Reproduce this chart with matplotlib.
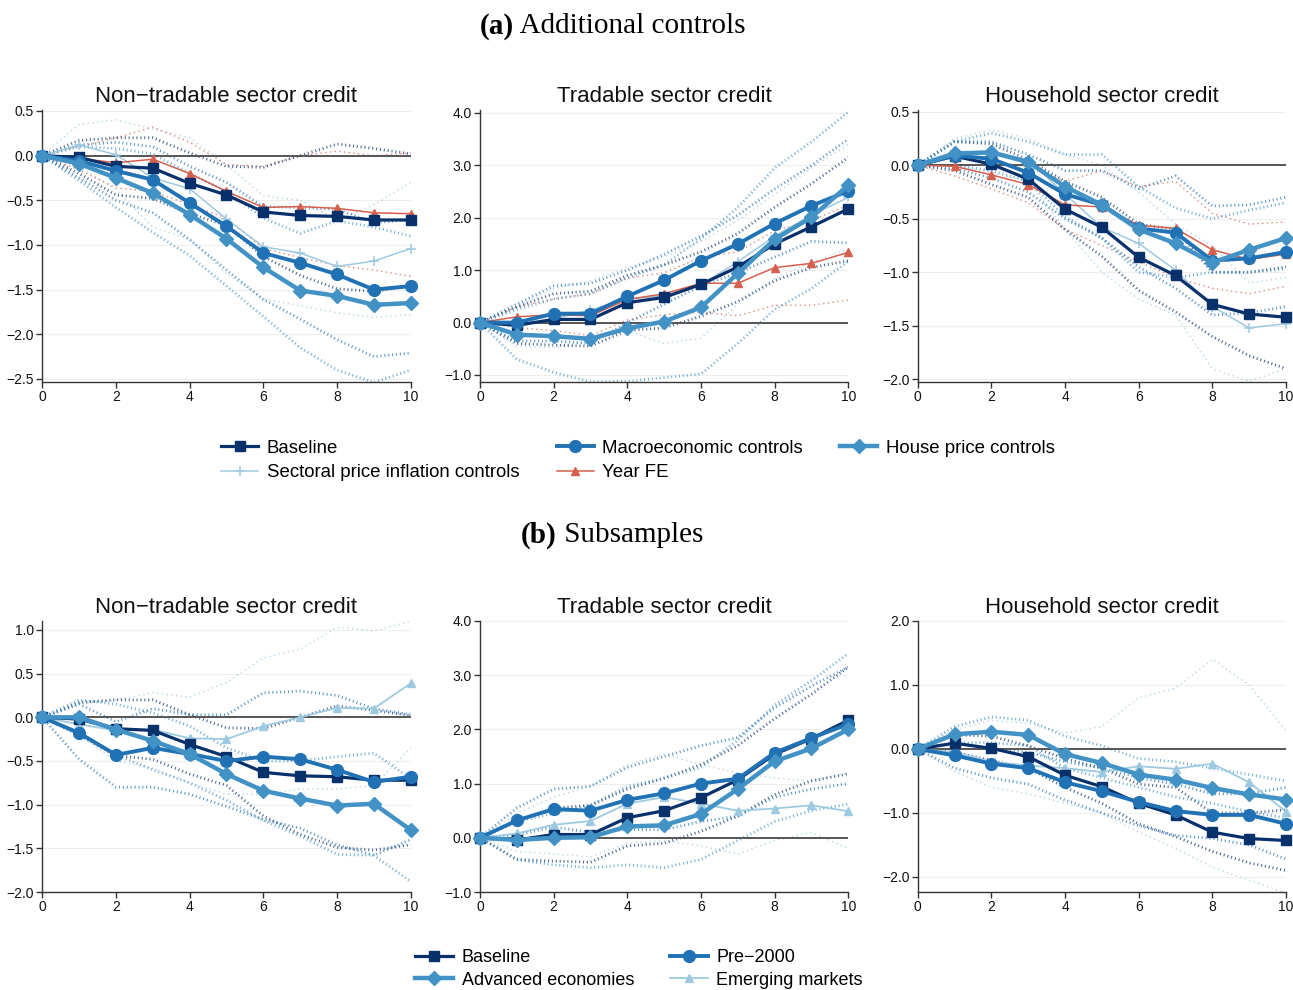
import matplotlib
matplotlib.use("Agg")
import matplotlib.pyplot as plt
from matplotlib.lines import Line2D

plt.rcParams['font.family'] = ['Liberation Sans', 'DejaVu Sans']

horizons = list(range(11))
panel_titles = ["Non\u2212tradable sector credit", "Tradable sector credit", "Household sector credit"]
section_a = "Additional controls"
section_b = "Subsamples"
labels_a = ["Baseline", "Macroeconomic controls", "House price controls",
            "Sectoral price inflation controls", "Year FE"]
labels_b = ["Baseline", "Pre\u22122000", "Advanced economies", "Emerging markets"]

# ---------------- Panel (a) : Non-tradable ----------------
a_nt_base = [0, -0.02, -0.12, -0.14, -0.31, -0.44, -0.63, -0.67, -0.68, -0.72, -0.72]
a_nt_base_hi = [0, 0.17, 0.20, 0.20, 0.03, -0.12, -0.13, 0.00, 0.13, 0.08, 0.02]
a_nt_base_lo = [0, -0.20, -0.44, -0.48, -0.65, -0.78, -1.13, -1.34, -1.49, -1.52, -1.46]
a_nt_macro = [0, -0.06, -0.17, -0.27, -0.53, -0.79, -1.09, -1.20, -1.33, -1.50, -1.46]
a_nt_macro_hi = [0, 0.12, 0.15, 0.10, -0.12, -0.30, -0.57, -0.58, -0.60, -0.75, -0.72]
a_nt_macro_lo = [0, -0.25, -0.50, -0.64, -0.94, -1.28, -1.61, -1.83, -2.06, -2.25, -2.21]
a_nt_house = [0, -0.09, -0.25, -0.42, -0.66, -0.93, -1.25, -1.51, -1.57, -1.67, -1.65]
a_nt_house_hi = [0, 0.10, 0.08, 0.02, -0.20, -0.40, -0.70, -0.87, -0.73, -0.80, -0.90]
a_nt_house_lo = [0, -0.28, -0.58, -0.86, -1.12, -1.46, -1.80, -2.15, -2.40, -2.54, -2.40]
a_nt_sect = [0, 0.12, 0.01, -0.25, -0.37, -0.71, -1.02, -1.09, -1.24, -1.18, -1.04]
a_nt_sect_hi = [0, 0.35, 0.40, 0.30, 0.20, -0.10, -0.45, -0.50, -0.72, -0.55, -0.30]
a_nt_sect_lo = [0, -0.12, -0.38, -0.80, -0.94, -1.32, -1.60, -1.68, -1.76, -1.81, -1.78]
a_nt_year = [0, -0.03, -0.08, -0.04, -0.20, -0.40, -0.58, -0.57, -0.59, -0.64, -0.65]
a_nt_year_hi = [0, 0.10, 0.20, 0.32, 0.15, -0.10, -0.12, 0.00, 0.05, 0.00, 0.03]
a_nt_year_lo = [0, -0.16, -0.36, -0.40, -0.55, -0.70, -1.04, -1.14, -1.23, -1.28, -1.35]

# ---------------- Panel (a) : Tradable ----------------
a_tr_base = [0, -0.05, 0.06, 0.06, 0.38, 0.48, 0.73, 1.06, 1.50, 1.83, 2.17]
a_tr_base_hi = [0, 0.30, 0.55, 0.60, 0.90, 1.10, 1.35, 1.70, 2.20, 2.65, 3.15]
a_tr_base_lo = [0, -0.40, -0.43, -0.45, -0.15, -0.10, 0.12, 0.40, 0.80, 1.05, 1.18]
a_tr_macro = [0, 0.00, 0.17, 0.17, 0.50, 0.81, 1.18, 1.50, 1.89, 2.23, 2.51]
a_tr_macro_hi = [0, 0.35, 0.70, 0.75, 1.00, 1.30, 1.65, 2.05, 2.55, 3.00, 3.50]
a_tr_macro_lo = [0, -0.35, -0.35, -0.40, 0.00, 0.35, 0.70, 0.95, 1.25, 1.55, 1.52]
a_tr_house = [0, -0.23, -0.26, -0.31, -0.11, 0.02, 0.29, 0.94, 1.59, 2.01, 2.62]
a_tr_house_hi = [0, 0.25, 0.45, 0.55, 0.85, 1.10, 1.60, 2.20, 2.95, 3.45, 4.02]
a_tr_house_lo = [0, -0.70, -0.95, -1.13, -1.12, -1.05, -0.98, -0.40, 0.25, 0.65, 1.17]
a_tr_sect = [0, -0.08, 0.07, 0.24, 0.45, 0.51, 0.72, 1.16, 1.65, 2.05, 2.39]
a_tr_sect_hi = [0, 0.30, 0.65, 0.80, 1.05, 1.25, 1.55, 1.95, 2.45, 2.95, 3.40]
a_tr_sect_lo = [0, -0.45, -0.48, -0.35, -0.15, -0.40, -0.30, 0.35, 0.85, 1.15, 1.40]
a_tr_year = [0, 0.11, 0.15, 0.13, 0.44, 0.55, 0.75, 0.75, 1.05, 1.13, 1.34]
a_tr_year_hi = [0, 0.30, 0.45, 0.55, 0.85, 0.95, 1.25, 1.35, 1.75, 1.95, 2.24]
a_tr_year_lo = [0, -0.10, -0.15, -0.25, 0.05, 0.15, 0.20, 0.13, 0.33, 0.33, 0.43]

# ---------------- Panel (a) : Household ----------------
a_hh_base = [0, 0.085, 0.01, -0.13, -0.41, -0.58, -0.86, -1.03, -1.30, -1.39, -1.42]
a_hh_base_hi = [0, 0.22, 0.20, 0.05, -0.15, -0.30, -0.55, -0.60, -1.00, -1.00, -0.95]
a_hh_base_lo = [0, -0.05, -0.18, -0.30, -0.60, -0.85, -1.17, -1.37, -1.60, -1.78, -1.90]
a_hh_macro = [0, 0.09, 0.06, -0.07, -0.27, -0.37, -0.59, -0.63, -0.89, -0.87, -0.81]
a_hh_macro_hi = [0, 0.22, 0.22, 0.10, -0.05, -0.05, -0.22, -0.10, -0.38, -0.37, -0.30]
a_hh_macro_lo = [0, -0.03, -0.12, -0.25, -0.50, -0.68, -0.95, -1.15, -1.40, -1.38, -1.32]
a_hh_house = [0, 0.11, 0.12, 0.03, -0.20, -0.37, -0.60, -0.73, -0.91, -0.79, -0.68]
a_hh_house_hi = [0, 0.22, 0.30, 0.22, 0.10, 0.10, -0.20, -0.40, -0.50, -0.42, -0.35]
a_hh_house_lo = [0, 0.00, -0.05, -0.15, -0.48, -0.68, -1.00, -1.05, -1.00, -1.00, -0.97]
a_hh_sect = [0, 0.12, 0.13, 0.05, -0.27, -0.58, -0.73, -0.98, -1.32, -1.52, -1.48]
a_hh_sect_hi = [0, 0.25, 0.33, 0.25, 0.10, 0.00, -0.25, -0.55, -0.75, -1.10, -1.05]
a_hh_sect_lo = [0, 0.00, -0.07, -0.15, -0.60, -1.00, -1.25, -1.40, -1.90, -2.02, -1.90]
a_hh_year = [0, -0.01, -0.09, -0.18, -0.37, -0.39, -0.56, -0.59, -0.79, -0.88, -0.83]
a_hh_year_hi = [0, 0.10, 0.05, -0.02, -0.15, -0.05, -0.20, -0.15, -0.45, -0.55, -0.53]
a_hh_year_lo = [0, -0.10, -0.22, -0.35, -0.60, -0.75, -0.90, -1.05, -1.15, -1.20, -1.13]

# ---------------- Panel (b) : Non-tradable ----------------
b_nt_base = [0, -0.02, -0.13, -0.15, -0.31, -0.45, -0.63, -0.67, -0.68, -0.72, -0.72]
b_nt_base_hi = [0, 0.17, 0.20, 0.20, 0.03, -0.12, -0.13, 0.00, 0.13, 0.08, 0.02]
b_nt_base_lo = [0, -0.20, -0.44, -0.48, -0.65, -0.78, -1.13, -1.34, -1.49, -1.52, -1.46]
b_nt_pre = [0, -0.18, -0.43, -0.35, -0.42, -0.50, -0.45, -0.48, -0.60, -0.74, -0.68]
b_nt_pre_hi = [0, 0.15, -0.05, 0.10, 0.03, 0.03, 0.28, 0.30, 0.25, 0.10, 0.03]
b_nt_pre_lo = [0, -0.48, -0.80, -0.80, -0.88, -1.02, -1.17, -1.27, -1.46, -1.58, -1.40]
b_nt_adv = [0, 0.00, -0.14, -0.27, -0.42, -0.65, -0.84, -0.93, -1.01, -0.99, -1.29]
b_nt_adv_hi = [0, 0.20, 0.15, 0.05, -0.10, -0.35, -0.50, -0.50, -0.45, -0.41, -0.70]
b_nt_adv_lo = [0, -0.20, -0.43, -0.60, -0.75, -0.95, -1.18, -1.36, -1.57, -1.58, -1.88]
b_nt_em = [0, -0.08, -0.15, -0.14, -0.24, -0.25, -0.10, 0.00, 0.11, 0.10, 0.39]
b_nt_em_hi = [0, 0.15, 0.20, 0.28, 0.23, 0.40, 0.68, 0.78, 1.03, 0.99, 1.10]
b_nt_em_lo = [0, -0.20, -0.50, -0.58, -0.75, -0.88, -0.88, -0.82, -0.82, -0.78, -0.35]

# ---------------- Panel (b) : Tradable ----------------
b_tr_base = [0, -0.04, 0.06, 0.06, 0.37, 0.50, 0.74, 1.07, 1.54, 1.83, 2.17]
b_tr_base_hi = [0, 0.30, 0.55, 0.60, 0.90, 1.10, 1.35, 1.70, 2.20, 2.65, 3.15]
b_tr_base_lo = [0, -0.40, -0.43, -0.45, -0.15, -0.10, 0.12, 0.40, 0.80, 1.05, 1.18]
b_tr_pre = [0, 0.32, 0.53, 0.50, 0.70, 0.82, 1.00, 1.09, 1.57, 1.84, 2.10]
b_tr_pre_hi = [0, 0.55, 0.90, 0.95, 1.30, 1.50, 1.70, 1.85, 2.40, 2.80, 3.15]
b_tr_pre_lo = [0, 0.05, 0.20, 0.10, 0.15, 0.15, 0.30, 0.40, 0.75, 0.90, 1.00]
b_tr_adv = [0, -0.04, 0.00, 0.01, 0.21, 0.23, 0.44, 0.90, 1.41, 1.65, 2.00]
b_tr_adv_hi = [0, 0.30, 0.45, 0.60, 0.95, 1.10, 1.30, 1.80, 2.45, 2.90, 3.40]
b_tr_adv_lo = [0, -0.40, -0.50, -0.55, -0.50, -0.55, -0.40, -0.05, 0.30, 0.50, 0.62]
b_tr_em = [0, 0.08, 0.24, 0.31, 0.63, 0.75, 0.63, 0.50, 0.54, 0.60, 0.49]
b_tr_em_hi = [0, 0.45, 0.75, 0.95, 1.35, 1.55, 1.35, 1.20, 1.10, 1.05, 1.20]
b_tr_em_lo = [0, -0.25, -0.30, -0.35, -0.10, -0.05, -0.15, -0.30, -0.05, 0.10, -0.20]

# ---------------- Panel (b) : Household ----------------
b_hh_base = [0, 0.09, 0.01, -0.12, -0.41, -0.59, -0.85, -1.03, -1.30, -1.40, -1.43]
b_hh_base_hi = [0, 0.22, 0.20, 0.05, -0.15, -0.30, -0.55, -0.60, -1.00, -1.00, -0.95]
b_hh_base_lo = [0, -0.05, -0.18, -0.30, -0.60, -0.85, -1.17, -1.37, -1.60, -1.78, -1.90]
b_hh_pre = [0, -0.10, -0.23, -0.30, -0.52, -0.66, -0.83, -0.97, -1.03, -1.03, -1.17]
b_hh_pre_hi = [0, 0.10, 0.00, -0.05, -0.20, -0.30, -0.45, -0.55, -0.70, -0.70, -0.60]
b_hh_pre_lo = [0, -0.30, -0.45, -0.55, -0.80, -1.00, -1.20, -1.35, -1.40, -1.50, -1.72]
b_hh_adv = [0, 0.23, 0.27, 0.22, -0.08, -0.22, -0.40, -0.48, -0.61, -0.71, -0.79]
b_hh_adv_hi = [0, 0.35, 0.50, 0.45, 0.20, 0.05, -0.15, -0.20, -0.30, -0.40, -0.50]
b_hh_adv_lo = [0, 0.10, 0.10, 0.05, -0.30, -0.45, -0.60, -0.75, -0.85, -0.98, -1.08]
b_hh_em = [0, -0.05, -0.20, -0.26, -0.30, -0.36, -0.27, -0.31, -0.23, -0.52, -0.98]
b_hh_em_hi = [0, 0.30, 0.45, 0.40, 0.25, 0.35, 0.80, 0.95, 1.40, 1.00, 0.28]
b_hh_em_lo = [0, -0.35, -0.60, -0.70, -0.85, -1.00, -1.30, -1.55, -1.85, -2.05, -2.25]

# ---------------- styles ----------------
C_BASE = "#08306b"
C_MACRO = "#2171b5"
C_HOUSE = "#4292c6"
C_LIGHT = "#9ecae1"
C_RED = "#d6604d"

style_base = dict(color=C_BASE, lw=2.3, marker="s", ms=7)
style_macro = dict(color=C_MACRO, lw=2.8, marker="o", ms=8.5)
style_house = dict(color=C_HOUSE, lw=3.2, marker="D", ms=7)
style_sect = dict(color=C_LIGHT, lw=1.1, marker="+", ms=7, mew=1.1)
style_year = dict(color=C_RED, lw=1.1, marker="^", ms=5.5)
style_em = dict(color=C_LIGHT, lw=1.3, marker="^", ms=6)

band_thick = dict(lw=2.0, ls=(0, (0.4, 1.0)), alpha=0.7)
band_thin = dict(lw=1.0, ls=(0, (1.0, 2.4)), alpha=0.75)

panels_a = [
    [(a_nt_sect, a_nt_sect_hi, a_nt_sect_lo, style_sect, band_thin),
     (a_nt_year, a_nt_year_hi, a_nt_year_lo, style_year, band_thin),
     (a_nt_base, a_nt_base_hi, a_nt_base_lo, style_base, band_thick),
     (a_nt_macro, a_nt_macro_hi, a_nt_macro_lo, style_macro, band_thick),
     (a_nt_house, a_nt_house_hi, a_nt_house_lo, style_house, band_thick)],
    [(a_tr_sect, a_tr_sect_hi, a_tr_sect_lo, style_sect, band_thin),
     (a_tr_year, a_tr_year_hi, a_tr_year_lo, style_year, band_thin),
     (a_tr_base, a_tr_base_hi, a_tr_base_lo, style_base, band_thick),
     (a_tr_macro, a_tr_macro_hi, a_tr_macro_lo, style_macro, band_thick),
     (a_tr_house, a_tr_house_hi, a_tr_house_lo, style_house, band_thick)],
    [(a_hh_sect, a_hh_sect_hi, a_hh_sect_lo, style_sect, band_thin),
     (a_hh_year, a_hh_year_hi, a_hh_year_lo, style_year, band_thin),
     (a_hh_base, a_hh_base_hi, a_hh_base_lo, style_base, band_thick),
     (a_hh_macro, a_hh_macro_hi, a_hh_macro_lo, style_macro, band_thick),
     (a_hh_house, a_hh_house_hi, a_hh_house_lo, style_house, band_thick)],
]
panels_b = [
    [(b_nt_em, b_nt_em_hi, b_nt_em_lo, style_em, band_thin),
     (b_nt_base, b_nt_base_hi, b_nt_base_lo, style_base, band_thick),
     (b_nt_pre, b_nt_pre_hi, b_nt_pre_lo, style_macro, band_thick),
     (b_nt_adv, b_nt_adv_hi, b_nt_adv_lo, style_house, band_thick)],
    [(b_tr_em, b_tr_em_hi, b_tr_em_lo, style_em, band_thin),
     (b_tr_base, b_tr_base_hi, b_tr_base_lo, style_base, band_thick),
     (b_tr_pre, b_tr_pre_hi, b_tr_pre_lo, style_macro, band_thick),
     (b_tr_adv, b_tr_adv_hi, b_tr_adv_lo, style_house, band_thick)],
    [(b_hh_em, b_hh_em_hi, b_hh_em_lo, style_em, band_thin),
     (b_hh_base, b_hh_base_hi, b_hh_base_lo, style_base, band_thick),
     (b_hh_pre, b_hh_pre_hi, b_hh_pre_lo, style_macro, band_thick),
     (b_hh_adv, b_hh_adv_hi, b_hh_adv_lo, style_house, band_thick)],
]

ylims_a = [(-2.534, 0.511), (-1.134, 4.057), (-2.025, 0.516)]
yticks_a = [[-2.5, -2.0, -1.5, -1.0, -0.5, 0.0, 0.5], [-1, 0, 1, 2, 3, 4], [-2.0, -1.5, -1.0, -0.5, 0.0, 0.5]]
ylims_b = [(-2.0, 1.103), (-1.0, 4.0), (-2.235, 2.0)]
yticks_b = [[-2.0, -1.5, -1.0, -0.5, 0.0, 0.5, 1.0], [-1, 0, 1, 2, 3, 4], [-2, -1, 0, 1, 2]]

W, H = 1293, 990
fig = plt.figure(figsize=(W / 100, H / 100), dpi=100)
fig.patch.set_facecolor("white")

col_x = [(42.3, 410.7), (480.0, 848.3), (917.7, 1286.0)]
row_y = [(110, 382), (621, 892)]


def make_ax(col, row):
    x0, x1 = col_x[col]
    t, b = row_y[row]
    return fig.add_axes([x0 / W, 1 - b / H, (x1 - x0) / W, (b - t) / H])


def draw(ax, series, ylim, yticks, title):
    for est, hi, lo, st, bs in series:
        ax.plot(horizons, hi, color=st["color"], zorder=2, **bs)
        ax.plot(horizons, lo, color=st["color"], zorder=2, **bs)
    ax.axhline(0, color="#555555", lw=1.4, zorder=3)
    for est, hi, lo, st, bs in series:
        ax.plot(horizons, est, zorder=4, clip_on=False, **st)
    ax.set_xlim(0, 10)
    ax.set_ylim(*ylim)
    ax.set_xticks([0, 2, 4, 6, 8, 10])
    ax.set_yticks(yticks)
    ax.set_yticklabels([f"{v:.1f}".replace("-", "\u2212") for v in yticks])
    ax.grid(axis="y", color="#eeeeee", lw=0.8, zorder=0)
    ax.set_axisbelow(True)
    for s in ["top", "right"]:
        ax.spines[s].set_visible(False)
    for s in ["left", "bottom"]:
        ax.spines[s].set_color("#333333")
        ax.spines[s].set_linewidth(1.0)
    ax.tick_params(axis="both", direction="out", length=4, width=1.0, color="#333333",
                   labelsize=10, pad=2, labelcolor="#111111")
    ax.set_title(title, fontsize=16, pad=6, color="#111111")


for i in range(3):
    ax = make_ax(i, 0)
    draw(ax, panels_a[i], ylims_a[i], yticks_a[i], panel_titles[i])
for i in range(3):
    ax = make_ax(i, 1)
    draw(ax, panels_b[i], ylims_b[i], yticks_b[i], panel_titles[i])

# section titles
serif = ['Liberation Serif', 'DejaVu Serif']


def section_title(x, y, tag, text):
    fig.text(x / W, 1 - y / H, f"({tag})", family=serif, fontweight="bold",
             fontsize=21, ha="right", va="center")
    fig.text(x / W, 1 - y / H, " " + text, family=serif, fontsize=21,
             ha="left", va="center")


section_title(514, 26, "a", section_a)
section_title(557, 535, "b", section_b)


def handle(st):
    return Line2D([], [], **st)


h_a = [handle(style_base), handle(style_sect), handle(style_macro), handle(style_year), handle(style_house)]
l_a = [labels_a[0], labels_a[3], labels_a[1], labels_a[4], labels_a[2]]
fig.legend(h_a, l_a, ncol=3, loc="center", bbox_to_anchor=(638 / W, 1 - 460.5 / H),
           frameon=False, fontsize=13.4, handlelength=2.0, handletextpad=0.45,
           columnspacing=2.0, labelspacing=0.4, borderpad=0)

h_b = [handle(style_base), handle(style_house), handle(style_macro), handle(style_em)]
l_b = [labels_b[0], labels_b[2], labels_b[1], labels_b[3]]
fig.legend(h_b, l_b, ncol=2, loc="center", bbox_to_anchor=(639 / W, 1 - 969 / H),
           frameon=False, fontsize=13, handlelength=2.1, handletextpad=0.45,
           columnspacing=2.0, labelspacing=0.3, borderpad=0)

fig.savefig("out.png", dpi=100, facecolor="white")
